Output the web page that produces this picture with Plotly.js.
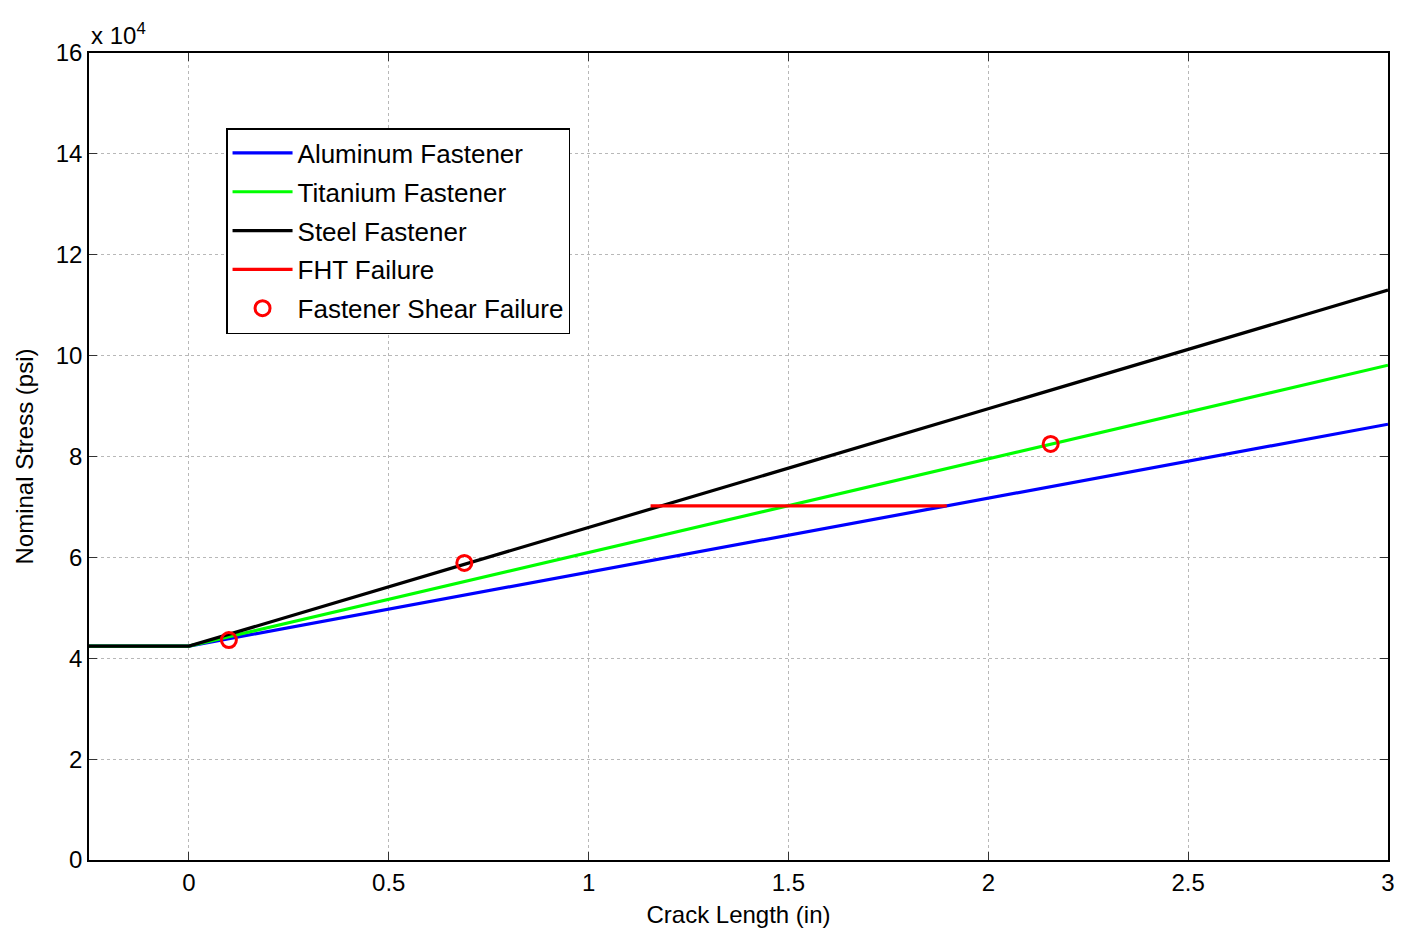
<!DOCTYPE html>
<html>
<head>
<meta charset="utf-8">
<script src="https://cdn.plot.ly/plotly-3.0.1.min.js"></script>
<style>html,body{margin:0;padding:0;background:#fff}#chart{width:1401px;height:937px}</style>
</head>
<body>
<div id="chart"></div>
<script>
// Crack length (in) break points
const crackX = [-0.25, 0, 3];
// Nominal stress (psi)
const aluminumY = [42400, 42400, 86400];
const titaniumY = [42400, 42400, 98100];
const steelY = [42400, 42400, 113000];
// FHT failure
const fhtX = [1.155, 1.896];
const fhtY = [70200, 70200];
// Fastener shear failure points
const shearX = [0.10, 0.689, 2.156];
const shearY = [43600, 58900, 82500];
// Axis ticks
const yTickVals = [0, 20000, 40000, 60000, 80000, 100000, 120000, 140000, 160000];
const yTickText = ['0', '2', '4', '6', '8', '10', '12', '14', '16'];
const xTickVals = [0, 0.5, 1, 1.5, 2, 2.5, 3];
const xTickText = ['0', '0.5', '1', '1.5', '2', '2.5', '3'];

const lw = 3.2;
const FONT = 'Liberation Sans, Arial, sans-serif';
const traces = [
  {x: crackX, y: aluminumY, mode: 'lines', name: 'Aluminum Fastener', line: {color: '#0000ff', width: lw}, legendgroup: 'a'},
  {x: crackX, y: titaniumY, mode: 'lines', name: 'Titanium Fastener', line: {color: '#00ff00', width: lw}, legendgroup: 'b'},
  {x: crackX, y: steelY, mode: 'lines', name: 'Steel Fastener', line: {color: '#000000', width: lw}, legendgroup: 'c'},
  {x: fhtX, y: fhtY, mode: 'lines', name: 'FHT Failure', line: {color: '#ff0000', width: lw}, legendgroup: 'd'},
  {x: shearX, y: shearY, mode: 'markers', name: 'Fastener Shear Failure', legendgroup: 'e',
   marker: {symbol: 'circle-open', size: 15, color: '#ff0000', line: {color: '#ff0000', width: 3}}}
];

const axisCommon = {
  showline: true, linecolor: '#000', linewidth: 1.5, mirror: 'ticks',
  ticks: 'inside', ticklen: 8, tickcolor: '#333', tickwidth: 1,
  showgrid: true, gridcolor: '#b8b8b8', griddash: 'dot', gridwidth: 1,
  zeroline: false, tickfont: {family: FONT, size: 24, color: '#000'}
};

const layout = {
  width: 1401, height: 937,
  margin: {l: 89, r: 13, t: 53, b: 77},
  paper_bgcolor: '#fff', plot_bgcolor: '#fff',
  font: {family: FONT, size: 24, color: '#000'},
  xaxis: Object.assign({}, axisCommon, {
    range: [-0.25, 3], tickvals: xTickVals, ticktext: xTickText,
    title: {text: 'Crack Length (in)', font: {size: 24}, standoff: 12}
  }),
  yaxis: Object.assign({}, axisCommon, {
    range: [0, 160000], tickvals: yTickVals, ticktext: yTickText,
    title: {text: 'Nominal Stress (psi)', font: {size: 24}, standoff: 15}
  }),
  showlegend: true,
  legend: {
    x: 0.1055, y: 0.907, xanchor: 'left', yanchor: 'top',
    bgcolor: '#fff', bordercolor: '#000', borderwidth: 1.5,
    font: {size: 26, color: '#000'}, tracegroupgap: 2,
    itemwidth: 60
  },
  annotations: [{
    xref: 'paper', yref: 'paper', x: 0, y: 1, xanchor: 'left', yanchor: 'bottom',
    yshift: 2, text: 'x 10<sup>4</sup>', showarrow: false, font: {size: 24, color: '#000'}
  }]
};

Plotly.newPlot('chart', traces, layout, {displayModeBar: false});
</script>
</body>
</html>
